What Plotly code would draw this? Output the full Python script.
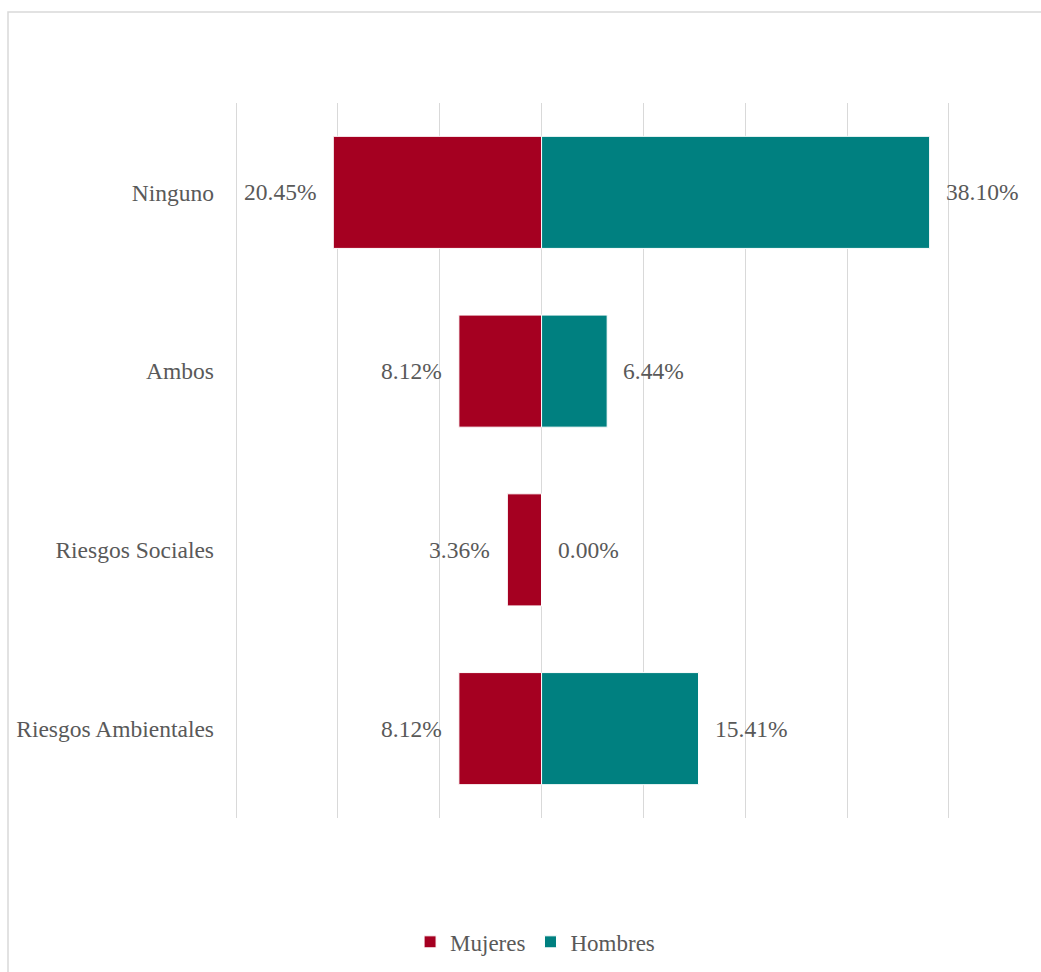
import plotly.graph_objects as go

# Categories top to bottom
categories = ["Ninguno", "Ambos", "Riesgos Sociales", "Riesgos Ambientales"]
mujeres = [20.45, 8.12, 3.36, 8.12]
hombres = [38.10, 6.44, 0.00, 15.41]

C_MUJ = "#A50021"
C_HOM = "#008080"
TXT = "#595959"
GRID = "#D9D9D9"
FONT = "Liberation Serif"
FS = 23.5

fig = go.Figure()
fig.add_trace(go.Bar(
    name="Mujeres", y=categories, x=[-v for v in mujeres], orientation="h",
    marker=dict(color=C_MUJ, line=dict(color="white", width=1)),
    hoverinfo="skip",
))
fig.add_trace(go.Bar(
    name="Hombres", y=categories, x=hombres, orientation="h",
    marker=dict(color=C_HOM, line=dict(color="white", width=1)),
    hoverinfo="skip",
))

# Value labels just beyond each bar end
annotations = []
for cat, m, h in zip(categories, mujeres, hombres):
    annotations.append(dict(x=-m, y=cat, xref="x", yref="y", text=f"{m:.2f}%",
                            showarrow=False, xanchor="right", xshift=-15,
                            font=dict(family=FONT, size=FS, color=TXT)))
    annotations.append(dict(x=h, y=cat, xref="x", yref="y", text=f"{h:.2f}%",
                            showarrow=False, xanchor="left", xshift=14,
                            font=dict(family=FONT, size=FS, color=TXT)))

fig.update_layout(
    width=1041, height=972,
    margin=dict(l=235, r=91, t=103, b=154),
    paper_bgcolor="white", plot_bgcolor="white",
    barmode="relative", bargap=0.373,
    font=dict(family=FONT, size=FS, color=TXT),
    xaxis=dict(range=[-30.1, 40.1], tick0=0, dtick=10, showticklabels=False,
               showgrid=True, gridcolor=GRID, gridwidth=1.3,
               zeroline=True, zerolinecolor=GRID, zerolinewidth=1.3,
               showline=False, fixedrange=True),
    yaxis=dict(autorange="reversed", showgrid=False, zeroline=False, showline=False,
               ticks="", ticklabelstandoff=20,
               tickfont=dict(family=FONT, size=FS, color=TXT)),
    legend=dict(orientation="h", xref="container", yref="container",
                x=0.514, y=0.031, xanchor="center", yanchor="middle",
                font=dict(family=FONT, size=23, color=TXT), traceorder="normal"),
    annotations=annotations,
    shapes=[dict(type="rect", xref="paper", yref="paper",
                 x0=(8 - 235) / 715, x1=1.3, y0=-0.4, y1=(818 - 12) / 715,
                 line=dict(color=GRID, width=1.5), fillcolor="rgba(0,0,0,0)",
                 layer="below")],
)

fig.write_html("out.html")
